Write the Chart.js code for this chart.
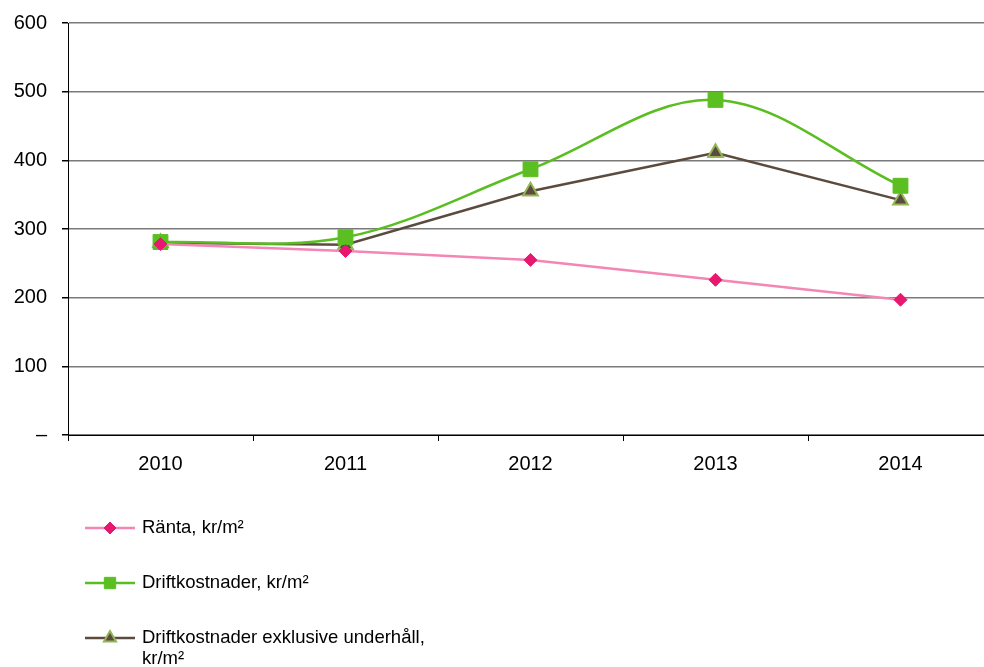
<!DOCTYPE html>
<html>
<head>
<meta charset="utf-8">
<script src="https://cdn.jsdelivr.net/npm/chart.js@4.4.1/dist/chart.umd.min.js"></script>
<style>
  html, body { margin: 0; padding: 0; background: #fff; overflow: hidden; }
  #wrap { width: 984px; height: 667px; overflow: hidden; position: relative; }
  #inner { width: 993px; height: 667px; position: relative; }
</style>
</head>
<body>
<div id="wrap"><div id="inner"><canvas id="chart"></canvas></div></div>
<script>
const years = ['2010', '2011', '2012', '2013', '2014']
const yTicks = [0, 100, 200, 300, 400, 500, 600]
const ranta = [278, 268, 255, 226, 197]
const drift = [281, 288, 387, 488, 363]
const driftExkl = [280, 277, 355, 411, 342]

const FONT = "'Liberation Sans', Arial, sans-serif"

// legend drawn on the canvas: line with marker, then text
const legendPlugin = {
    id: 'sideLegend',
    afterDraw(chart) {
        const ctx = chart.ctx
        const rows = [
            { y: 528, lines: ['Ränta, kr/m²'] },
            { y: 583, lines: ['Driftkostnader, kr/m²'] },
            { y: 638, lines: ['Driftkostnader exklusive underhåll,', 'kr/m²'] }
        ]
        chart.data.datasets.forEach((ds, i) => {
            const r = rows[i]
            ctx.save()
            ctx.strokeStyle = ds.borderColor
            ctx.lineWidth = 2.5
            ctx.beginPath()
            ctx.moveTo(85, r.y)
            ctx.lineTo(135, r.y)
            ctx.stroke()
            ctx.fillStyle = ds.pointBackgroundColor
            ctx.strokeStyle = ds.pointBorderColor
            ctx.lineWidth = ds.pointBorderWidth
            Chart.helpers.drawPoint(ctx, {
                pointStyle: ds.pointStyle, radius: ds.legendRadius, rotation: 0, borderWidth: ds.pointBorderWidth
            }, 110, r.y)
            ctx.fillStyle = '#000'
            ctx.font = '18.5px ' + FONT
            ctx.textBaseline = 'middle'
            r.lines.forEach((t, k) => ctx.fillText(t, 142, r.y + k * 21))
            ctx.restore()
        })
    }
}

new Chart(document.getElementById('chart'), {
    type: 'line',
    data: {
        labels: years,
        datasets: [{
            label: 'Ränta, kr/m²',
            data: ranta,
            borderColor: '#f386b4',
            borderWidth: 2.5,
            pointStyle: 'rectRot',
            pointRadius: 6.5,
            legendRadius: 6,
            pointBackgroundColor: '#e8176f',
            pointBorderColor: '#e8176f',
            pointBorderWidth: 1,
            tension: 0
        }, {
            label: 'Driftkostnader, kr/m²',
            data: drift,
            borderColor: '#5abd20',
            borderWidth: 2.5,
            pointStyle: 'rect',
            pointRadius: 10.5,
            legendRadius: 8,
            pointBackgroundColor: '#5bbf22',
            pointBorderColor: '#5bbf22',
            pointBorderWidth: 1,
            tension: 0.35
        }, {
            label: 'Driftkostnader exklusive underhåll, kr/m²',
            data: driftExkl,
            borderColor: '#5b4b3f',
            borderWidth: 2.5,
            pointStyle: 'triangle',
            pointRadius: 8.5,
            legendRadius: 7,
            pointBackgroundColor: '#5b4b3f',
            pointBorderColor: '#93b558',
            pointBorderWidth: 2,
            tension: 0
        }]
    },
    options: {
        responsive: true,
        maintainAspectRatio: false,
        animation: false,
        layout: { autoPadding: false, padding: { top: 23, right: 0, left: 0, bottom: 0 } },
        plugins: {
            legend: { display: false },
            tooltip: { enabled: false }
        },
        scales: {
            x: {
                offset: true,
                afterFit: s => { s.height = 232; s.paddingLeft = 0; s.paddingRight = 0 },
                border: { color: '#000', width: 1 },
                grid: { offset: true, drawOnChartArea: false, tickLength: 6, tickColor: '#000' },
                ticks: { color: '#000', font: { family: FONT, size: 20 }, padding: 11, maxRotation: 0 }
            },
            y: {
                min: 0,
                max: 600,
                afterFit: s => { s.width = 68; s.paddingTop = 0; s.paddingBottom = 0 },
                afterBuildTicks: s => { s.ticks = yTicks.map(v => ({ value: v })) },
                border: { color: '#000', width: 1 },
                grid: { color: '#7a7a7a', lineWidth: 1.5, tickLength: 6, tickColor: '#000' },
                ticks: {
                    color: '#000',
                    font: { family: FONT, size: 20 },
                    padding: 15,
                    callback: v => v === 0 ? '–' : v
                }
            }
        }
    },
    plugins: [legendPlugin]
})
</script>
</body>
</html>
